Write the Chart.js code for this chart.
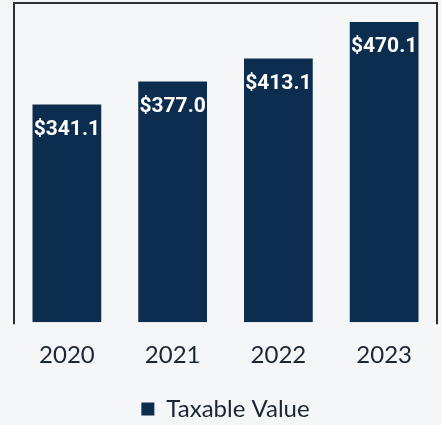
<!DOCTYPE html>
<html>
<head>
<meta charset="utf-8">
<script src="https://cdn.jsdelivr.net/npm/chart.js@4/dist/chart.umd.min.js"></script>
<style>
  html, body { margin: 0; padding: 0; background: #f5f6f7; }
  #wrap { width: 442px; height: 425px; }
</style>
</head>
<body>
<div id="wrap"><canvas id="c" width="442" height="425"></canvas></div>
<script>
const years = ['2020', '2021', '2022', '2023'];
const taxableValue = [341.1, 377.0, 413.1, 470.1];
const seriesName = 'Taxable Value';

const navy = '#0c2d4e';
const ink = '#1b2633';

// Frame around the plot: top, left and right edges only
const framePlugin = {
  id: 'frame',
  afterDraw(chart) {
    const { ctx, chartArea: a } = chart;
    ctx.save();
    ctx.strokeStyle = '#2a2f36';
    ctx.lineWidth = 2;
    ctx.beginPath();
    ctx.moveTo(a.left, a.bottom + 2);
    ctx.lineTo(a.left, a.top);
    ctx.lineTo(a.right, a.top);
    ctx.lineTo(a.right, a.bottom + 2);
    ctx.stroke();
    ctx.restore();
  }
};

// Value labels printed just inside the top of each bar
const valueLabels = {
  id: 'valueLabels',
  afterDatasetsDraw(chart) {
    const { ctx } = chart;
    const meta = chart.getDatasetMeta(0);
    ctx.save();
    ctx.fillStyle = '#ffffff';
    ctx.font = 'bold 21px Roboto';
    ctx.textAlign = 'center';
    ctx.textBaseline = 'middle';
    meta.data.forEach((bar, i) => {
      const v = chart.data.datasets[0].data[i];
      ctx.fillText('$' + v.toFixed(1), bar.x, bar.y + 25);
    });
    ctx.restore();
  }
};

new Chart(document.getElementById('c'), {
  type: 'bar',
  data: {
    labels: years,
    datasets: [{
      label: seriesName,
      data: taxableValue,
      backgroundColor: navy,
      borderWidth: 0,
      categoryPercentage: 0.65,
      barPercentage: 1.0
    }]
  },
  options: {
    responsive: false,
    animation: false,
    layout: { padding: { left: 14, right: 5, top: 3, bottom: -6 } },
    plugins: {
      legend: {
        position: 'bottom',
        labels: {
          color: ink,
          font: { family: 'Lato', size: 24 },
          boxWidth: 13,
          boxHeight: 13,
          padding: 5
        }
      },
      tooltip: { enabled: false }
    },
    scales: {
      x: {
        grid: { display: false },
        border: { display: false },
        ticks: {
          color: ink,
          font: { family: 'Lato', size: 24 },
          padding: 11
        },
        // extra room between the year labels and the legend
        afterFit(scale) { scale.height += 11; }
      },
      y: {
        display: false,
        min: 0,
        max: 500
      }
    }
  },
  plugins: [framePlugin, valueLabels]
});
</script>
</body>
</html>
